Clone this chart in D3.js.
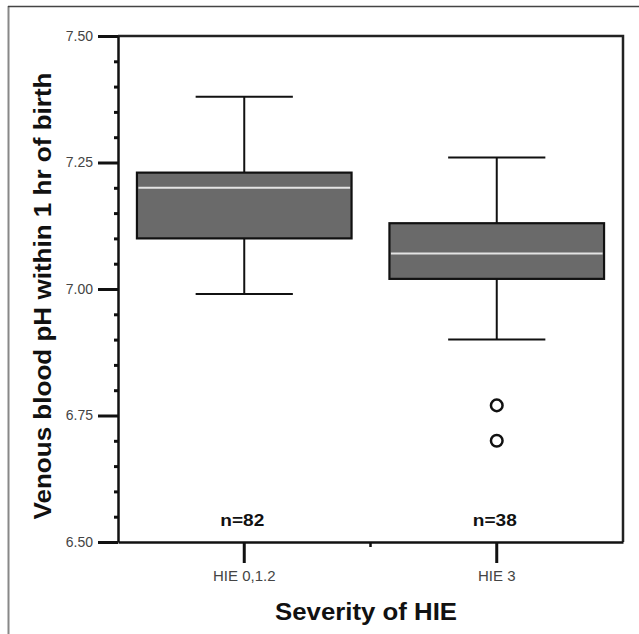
<!DOCTYPE html>
<html><head><meta charset="utf-8">
<script src="https://cdn.jsdelivr.net/npm/d3@7/dist/d3.min.js"></script>
<style>
html,body{margin:0;padding:0;background:#fff;}
svg{display:block;font-family:Arial,"Liberation Sans",sans-serif;}
</style></head>
<body>
<svg id="chart" width="639" height="634"></svg>
<script>
const categories = ["HIE 0,1.2", "HIE 3"];
const whiskerLow = [6.99, 6.90];
const q1 = [7.10, 7.02];
const medians = [7.20, 7.07];
const q3 = [7.23, 7.13];
const whiskerHigh = [7.38, 7.26];
const outliers = [[], [6.77, 6.70]];
const counts = ["n=82", "n=38"];
const yTicks = [6.50, 6.75, 7.00, 7.25, 7.50];

const svg = d3.select("#chart");
const L = 118, R = 623, T = 36, B = 542;

const x = d3.scaleBand().domain(categories).range([L, R]).paddingInner(0).paddingOuter(0);
const y = d3.scaleLinear().domain([6.5, 7.5]).range([B, T]);

// outer frame
svg.append("line").attr("x1", 8.5).attr("x2", 8.5).attr("y1", 6).attr("y2", 634)
  .attr("stroke", "#888").attr("stroke-width", 2);
svg.append("line").attr("x1", 8).attr("x2", 639).attr("y1", 6.5).attr("y2", 6.5)
  .attr("stroke", "#444").attr("stroke-width", 1.5);

// plot frame (top/right)
svg.append("path").attr("d", `M${L},${T}H${R}V${B}`).attr("fill", "none")
  .attr("stroke", "#222").attr("stroke-width", 2.5);

// minor y ticks
const minor = d3.range(6.5, 7.5001, 0.05).map(v => +v.toFixed(2)).filter(v => !yTicks.includes(v));
svg.append("g").attr("transform", `translate(${L},0)`)
  .call(d3.axisLeft(y).tickValues(minor).tickSize(4).tickFormat(""))
  .call(g => g.select(".domain").remove())
  .call(g => g.selectAll("line").attr("stroke", "#111").attr("stroke-width", 3));

// y axis
svg.append("g").attr("transform", `translate(${L},0)`)
  .call(d3.axisLeft(y).tickValues(yTicks).tickSize(20).tickPadding(5).tickFormat(d3.format(".2f")).tickSizeOuter(0))
  .call(g => g.select(".domain").attr("stroke", "#111").attr("stroke-width", 2.5))
  .call(g => g.selectAll(".tick line").attr("stroke", "#111").attr("stroke-width", 3))
  .call(g => g.selectAll(".tick text").attr("fill", "#444").style("font-size", "14px").attr("font-family", "Arial, Liberation Sans, sans-serif"));

// x axis
svg.append("g").attr("transform", `translate(0,${B})`)
  .call(d3.axisBottom(x).tickSize(21).tickPadding(7).tickSizeOuter(0))
  .call(g => g.select(".domain").attr("stroke", "#111").attr("stroke-width", 2.5))
  .call(g => g.selectAll(".tick line").attr("stroke", "#111").attr("stroke-width", 3))
  .call(g => g.selectAll(".tick text").attr("fill", "#444").style("font-size", "15px").attr("font-family", "Arial, Liberation Sans, sans-serif"));
// boundary tick between categories
svg.append("line").attr("x1", x(categories[1])).attr("x2", x(categories[1]))
  .attr("y1", B).attr("y2", B + 5).attr("stroke", "#111").attr("stroke-width", 2.5);

const bw = x.bandwidth();
const boxW = bw * 0.85, capW = bw * 0.385;
const g = svg.append("g");
categories.forEach((c, i) => {
  const cx = x(c) + bw / 2;
  // whiskers
  g.append("line").attr("x1", cx).attr("x2", cx).attr("y1", y(whiskerHigh[i])).attr("y2", y(q3[i]))
    .attr("stroke", "#111").attr("stroke-width", 2);
  g.append("line").attr("x1", cx).attr("x2", cx).attr("y1", y(q1[i])).attr("y2", y(whiskerLow[i]))
    .attr("stroke", "#111").attr("stroke-width", 2);
  g.append("line").attr("x1", cx - capW / 2).attr("x2", cx + capW / 2).attr("y1", y(whiskerHigh[i])).attr("y2", y(whiskerHigh[i]))
    .attr("stroke", "#111").attr("stroke-width", 2);
  g.append("line").attr("x1", cx - capW / 2).attr("x2", cx + capW / 2).attr("y1", y(whiskerLow[i])).attr("y2", y(whiskerLow[i]))
    .attr("stroke", "#111").attr("stroke-width", 2);
  // box
  g.append("rect").attr("x", cx - boxW / 2).attr("width", boxW)
    .attr("y", y(q3[i])).attr("height", y(q1[i]) - y(q3[i]))
    .attr("fill", "#6a6a6a").attr("stroke", "#111").attr("stroke-width", 2.2);
  // median
  g.append("line").attr("x1", cx - boxW / 2 + 1.5).attr("x2", cx + boxW / 2 - 1.5).attr("y1", y(medians[i])).attr("y2", y(medians[i]))
    .attr("stroke", "#e4e4e4").attr("stroke-width", 2);
  // outliers
  outliers[i].forEach(v => {
    g.append("circle").attr("cx", cx).attr("cy", y(v)).attr("r", 5.8)
      .attr("fill", "#fff").attr("stroke", "#111").attr("stroke-width", 2.5);
  });
  // count labels
  g.append("text").attr("x", cx - 2).attr("y", 526).attr("text-anchor", "middle")
    .attr("font-size", 17).attr("font-weight", "bold").attr("fill", "#111")
    .attr("textLength", 44).attr("lengthAdjust", "spacingAndGlyphs").text(counts[i]);
});

// axis titles
svg.append("text").attr("x", 366).attr("y", 620).attr("text-anchor", "middle")
  .attr("font-size", 23).attr("font-weight", "bold").attr("fill", "#111")
  .attr("textLength", 182).attr("lengthAdjust", "spacingAndGlyphs").text("Severity of HIE");
svg.append("text").attr("transform", "translate(51,296) rotate(-90)").attr("text-anchor", "middle")
  .attr("font-size", 23).attr("font-weight", "bold").attr("fill", "#111")
  .attr("textLength", 447).attr("lengthAdjust", "spacingAndGlyphs").text("Venous blood pH within 1 hr of birth");
</script>
</body></html>
